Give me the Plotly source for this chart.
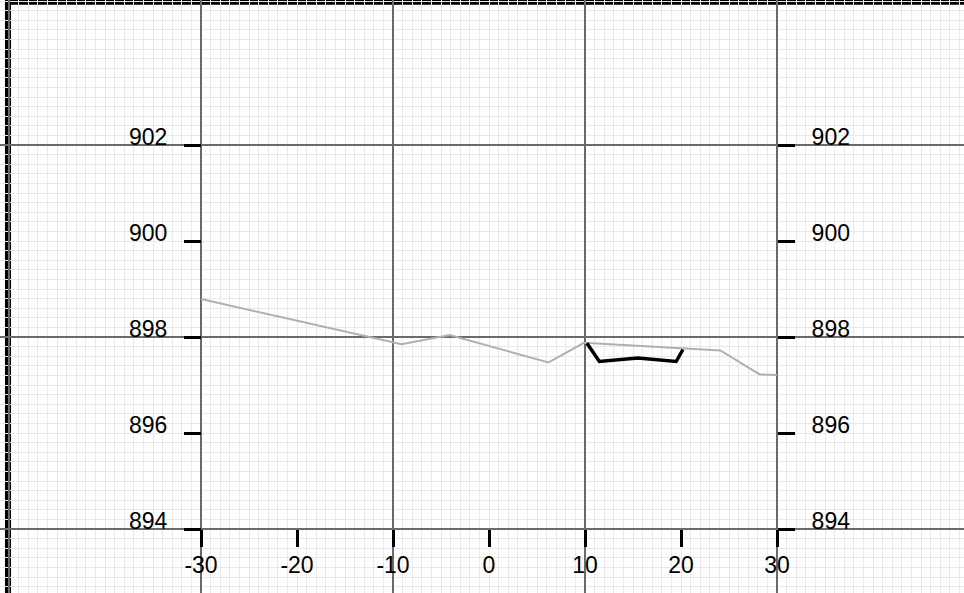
import plotly.graph_objects as go

# ---- data ----
ground_x = [-30, -9.1, -4.1, 6.2, 9.9, 24.1, 28.2, 30]
ground_y = [898.79, 897.85, 898.04, 897.47, 897.88, 897.72, 897.22, 897.21]
section_x = [10.2, 11.5, 15.5, 19.5, 20.2]
section_y = [897.87, 897.49, 897.56, 897.49, 897.74]
x_tick_vals = [-30, -20, -10, 0, 10, 20, 30]
x_tick_text = ["-30", "-20", "-10", "0", "10", "20", "30"]
y_tick_vals = [894, 896, 898, 900, 902]
y_tick_text = ["894", "896", "898", "900", "902"]

W, H = 964, 593
X0, X1 = -50.9375, 49.479
Y0, Y1 = 892.667, 905.021

MINOR = "#e9e9e9"
MAJOR = "#6a6a6a"
FONT = dict(family="Arial, Liberation Sans, sans-serif", size=23, color="black")

fig = go.Figure()
fig.add_trace(go.Scatter(x=ground_x, y=ground_y, mode="lines",
                         line=dict(color="#b0b0b0", width=2), hoverinfo="skip"))
fig.add_trace(go.Scatter(x=section_x, y=section_y, mode="lines",
                         line=dict(color="black", width=3.5), hoverinfo="skip"))
# invisible carriers so the overlay axes get drawn
fig.add_trace(go.Scatter(x=ground_x, y=ground_y, xaxis="x2", yaxis="y2", mode="lines",
                         line=dict(width=0), opacity=0, hoverinfo="skip"))
fig.add_trace(go.Scatter(x=ground_x, y=ground_y, xaxis="x", yaxis="y3", mode="lines",
                         line=dict(width=0), opacity=0, hoverinfo="skip"))

def fx(v):
    return (v - X0) / (X1 - X0)

def fy(v):
    return (v - Y0) / (Y1 - Y0)

fig.update_layout(
    width=W, height=H,
    margin=dict(l=0, r=0, t=0, b=0, pad=0),
    paper_bgcolor="white", plot_bgcolor="white",
    showlegend=False,
    xaxis=dict(range=[X0, X1], showgrid=True, gridcolor=MAJOR, gridwidth=2,
               tick0=-30, dtick=20, showticklabels=False, ticks="",
               zeroline=False, showline=False,
               minor=dict(tick0=0, dtick=1, showgrid=True, gridcolor=MINOR, gridwidth=1)),
    yaxis=dict(range=[Y0, Y1], showgrid=True, gridcolor=MAJOR, gridwidth=2,
               tick0=894, dtick=4, showticklabels=False, ticks="",
               zeroline=False, showline=False,
               minor=dict(tick0=894, dtick=0.2, showgrid=True, gridcolor=MINOR, gridwidth=1)),
    xaxis2=dict(range=[X0, X1], overlaying="x", anchor="free", position=fy(894),
                side="bottom", tickmode="array", tickvals=x_tick_vals, ticktext=x_tick_text,
                ticks="outside", ticklen=17, tickwidth=3, tickcolor="black",
                ticklabelstandoff=-2,
                showgrid=False, zeroline=False, showline=False, tickfont=FONT),
    yaxis2=dict(range=[Y0, Y1], overlaying="y", anchor="free", position=fx(-30),
                side="left", tickmode="array", tickvals=y_tick_vals, ticktext=y_tick_text,
                ticks="outside", ticklen=17, tickwidth=3, tickcolor="black",
                ticklabelstandoff=12, ticklabelshift=-8,
                showgrid=False, zeroline=False, showline=False, tickfont=FONT),
    yaxis3=dict(range=[Y0, Y1], overlaying="y", anchor="free", position=fx(30),
                side="right", tickmode="array", tickvals=y_tick_vals, ticktext=y_tick_text,
                ticks="outside", ticklen=17, tickwidth=3, tickcolor="black",
                ticklabelstandoff=12, ticklabelshift=-8,
                showgrid=False, zeroline=False, showline=False, tickfont=FONT),
)

# black frame strips (drawn below the grid so grid lines cross them)
fig.add_shape(type="rect", xref="x", yref="paper", x0=-50.42, x1=-49.79, y0=0, y1=1,
              fillcolor="black", line=dict(width=0), layer="below")
fig.add_shape(type="rect", xref="x", yref="y", x0=-50.42, x1=X1 + 1, y0=904.92, y1=Y1 + 1,
              fillcolor="black", line=dict(width=0), layer="below")

fig.write_html("out.html", config={"displayModeBar": False},
               post_script="document.body.style.margin='0';")
